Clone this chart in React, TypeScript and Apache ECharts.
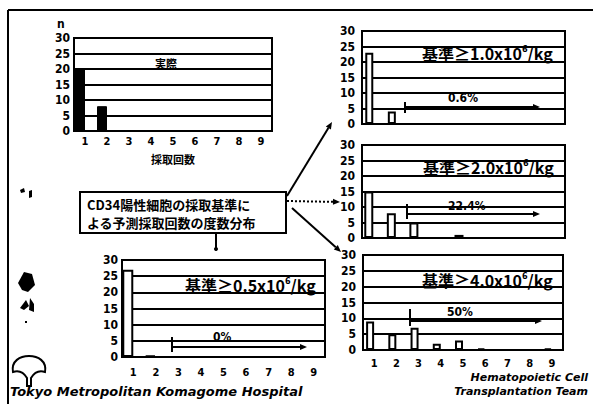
import React, { useEffect, useRef } from "react";
import * as echarts from "echarts";

const categories = ["1", "2", "3", "4", "5", "6", "7", "8", "9"];
const actualCounts = [20, 8, 0, 0, 0, 0, 0, 0, 0];
const criterion05 = [27, 0.5, 0, 0, 0, 0, 0, 0, 0];
const criterion10 = [23, 4, 0, 0, 0, 0, 0, 0, 0];
const criterion20 = [15, 8, 5, 0, 1, 0, 0, 0, 0];
const criterion40 = [9, 5, 7, 2, 3, 0.5, 0, 0, 0.5];
const yMin = 0;
const yMax = 30;
const yStep = 5;
const criterionLabels = ["1.0", "2.0", "4.0", "0.5"];
const percentLabels = ["0.6%", "22.4%", "50%", "0%"];
const boxLines = ["CD34陽性細胞の採取基準に", "よる予測採取回数の度数分布"];
const actualLabel = "実際";
const xAxisTitle = "採取回数";
const yAxisTitle = "n";
const footerLeft = "Tokyo Metropolitan Komagome Hospital";
const footerRight = ["Hematopoietic Cell", "Transplantation Team"];

const NUM_FONT = "'DejaVu Sans Condensed', 'Liberation Sans Narrow', sans-serif";
const CJK_FONT = "'Noto Sans CJK JP', 'Noto Sans', sans-serif";

const ginkgoPath =
  "M13 372 C11 361 20 356 29 356 C38 356 47 361 45 372 C39 370 34 373 31 378 L31 386 L27 386 L27 378 C24 373 19 370 13 372 Z";

function arrow(x1: number, y1: number, x2: number, y2: number, dashed = false) {
  const ang = Math.atan2(y2 - y1, x2 - x1);
  const L = 7;
  const W = 3;
  const c = Math.cos(ang);
  const s = Math.sin(ang);
  const bx = x2 - L * c;
  const by = y2 - L * s;
  return [
    {
      type: "line",
      shape: { x1, y1, x2: bx, y2: by },
      style: { stroke: "#000", lineWidth: 2, lineDash: dashed ? [2, 2] : null },
    },
    {
      type: "polygon",
      shape: {
        points: [
          [x2, y2],
          [bx + W * s, by - W * c],
          [bx - W * s, by + W * c],
        ],
      },
      style: { fill: "#000" },
    },
  ];
}

function txt(text: string, x: number, y: number, size: number, opts: any = {}) {
  return {
    type: "text",
    x,
    y,
    style: {
      text,
      fontSize: size,
      fontWeight: "bold",
      fontFamily: opts.family || CJK_FONT,
      fontStyle: opts.italic ? "italic" : "normal",
      fill: "#000",
      textAlign: opts.align || "left",
      align: opts.align || "left",
      textVerticalAlign: "middle",
      verticalAlign: "middle",
    },
  };
}

function critText(val: string, x: number, y: number) {
  return {
    type: "text",
    x,
    y,
    style: {
      text: `{a|基準≥${val}x10}{s|6}{a|/kg}`,
      textVerticalAlign: "middle",
      verticalAlign: "middle",
      rich: {
        a: {
          fontSize: 16,
          fontWeight: "bold",
          fontFamily: CJK_FONT,
          fill: "#000",
          color: "#000",
          lineHeight: 18,
        },
        s: {
          fontSize: 9,
          fontWeight: "bold",
          fontFamily: NUM_FONT,
          fill: "#000",
          color: "#000",
          verticalAlign: "top",
          lineHeight: 10,
        },
      },
    },
  };
}

function pctArrow(xt: number, yt1: number, yt2: number, yh: number, xEnd: number) {
  return [
    {
      type: "line",
      shape: { x1: xt, y1: yt1, x2: xt, y2: yt2 },
      style: { stroke: "#000", lineWidth: 2 },
    },
    ...arrow(xt, yh, xEnd, yh),
  ];
}

function speck(points: number[][]) {
  return { type: "polygon", shape: { points }, style: { fill: "#000" } };
}

export default function App() {
  const ref = useRef<HTMLDivElement>(null);
  useEffect(() => {
    if (!ref.current) return;
    try {
      echarts.graphic.registerShape(
        "ginkgo",
        echarts.graphic.extendPath(ginkgoPath, {}) as any
      );
    } catch (e) {}
    const chart = echarts.init(ref.current, null as any, { renderer: "svg" });

    const grids = [
      { left: 74, top: 38, width: 198, height: 93 },
      { left: 362, top: 31, width: 203, height: 93 },
      { left: 362, top: 145, width: 203, height: 93 },
      { left: 363, top: 255, width: 200, height: 95 },
      { left: 122, top: 260, width: 203, height: 97 },
    ];
    const seriesData = [actualCounts, criterion10, criterion20, criterion40, criterion05];
    const showX = [true, false, false, true, true];
    const xMargins = [5, 6, 6, 8, 10];
    const yMargins = [4, 7, 7, 7, 4];
    const barWidths = [10, 8, 9, 8, 11];

    const option: any = {
      animation: false,
      backgroundColor: "#fff",
      grid: grids.map((g) => ({
        ...g,
        show: true,
        borderColor: "#000",
        borderWidth: 2,
        backgroundColor: "transparent",
        containLabel: false,
      })),
      xAxis: grids.map((g, i) => ({
        type: "category",
        gridIndex: i,
        data: categories,
        axisLine: { show: true, lineStyle: { color: "#000", width: 2 } },
        axisTick: { show: false },
        axisLabel: {
          show: showX[i],
          color: "#000",
          fontSize: 11,
          fontWeight: "bold",
          fontFamily: NUM_FONT,
          margin: xMargins[i],
        },
        splitLine: { show: false },
        name: i === 0 ? xAxisTitle : "",
        nameLocation: "middle",
        nameGap: 22,
        nameTextStyle: {
          color: "#000",
          fontSize: 11,
          fontWeight: "bold",
          fontFamily: CJK_FONT,
        },
      })),
      yAxis: grids.map((g, i) => ({
        type: "value",
        gridIndex: i,
        min: yMin,
        max: yMax,
        interval: yStep,
        axisLine: { show: true, lineStyle: { color: "#000", width: 2 } },
        axisTick: { show: false },
        axisLabel: {
          color: "#000",
          fontSize: 12,
          fontWeight: "bold",
          fontFamily: NUM_FONT,
          margin: yMargins[i],
        },
        splitLine: { show: true, lineStyle: { color: "#000", width: 2 } },
      })),
      series: [
        ...seriesData.map((d, i) => ({
          type: "bar",
          xAxisIndex: i,
          yAxisIndex: i,
          data: d,
          barWidth: barWidths[i],
          barGap: "0%",
          itemStyle:
            i === 0
              ? { color: "#000", borderColor: "#000", borderWidth: 1 }
              : { color: "#fff", borderColor: "#000", borderWidth: 2 },
          silent: true,
        })),
        ...seriesData.map((d, i) => ({
          type: "bar",
          xAxisIndex: i,
          yAxisIndex: i,
          data: d.map(() => "-"),
          barWidth: barWidths[i],
          barGap: "0%",
          itemStyle: { color: "transparent" },
          silent: true,
        })),
      ],
      graphic: {
        elements: [
          // frame
          { type: "line", shape: { x1: 8, y1: 10, x2: 593, y2: 10 }, style: { stroke: "#000", lineWidth: 2 } },
          { type: "line", shape: { x1: 8, y1: 10, x2: 8, y2: 404 }, style: { stroke: "#000", lineWidth: 2 } },
          // left-edge specks from the scan
          speck([[20, 190], [24, 188], [25, 192], [21, 193]]),
          speck([[29, 191], [32, 190], [32, 197], [29, 198]]),
          speck([[18, 283], [24, 272], [32, 274], [35, 285], [28, 292], [22, 290]]),
          speck([[20, 308], [26, 300], [29, 306], [24, 310]]),
          speck([[30, 298], [34, 304], [34, 312], [29, 310]]),
          speck([[25, 321], [27, 321], [27, 323], [25, 323]]),
          // top-left
          txt(yAxisTitle, 57, 24, 12, { family: NUM_FONT }),
          txt(actualLabel, 155, 63, 11),
          // top-right
          critText(criterionLabels[0], 422, 53),
          txt(percentLabels[0], 448, 98, 12, { family: NUM_FONT }),
          ...pctArrow(405, 102, 113, 107, 540),
          // middle-right
          critText(criterionLabels[1], 423, 167),
          txt(percentLabels[1], 448, 206, 12, { family: NUM_FONT }),
          ...pctArrow(407, 204, 219, 214, 540),
          // bottom-right
          critText(criterionLabels[2], 422, 280),
          txt(percentLabels[2], 447, 312, 12, { family: NUM_FONT }),
          ...pctArrow(410, 309, 326, 321, 542),
          // bottom-left
          critText(criterionLabels[3], 185, 285),
          txt(percentLabels[3], 213, 337, 12, { family: NUM_FONT }),
          ...pctArrow(172, 337, 352, 347, 307),
          // box
          {
            type: "rect",
            shape: { x: 80, y: 192, width: 206, height: 41 },
            style: { fill: "#fff", stroke: "#000", lineWidth: 2 },
          },
          txt(boxLines[0], 87, 204, 13),
          txt(boxLines[1], 87, 222, 13),
          ...arrow(287, 196, 332, 122),
          ...arrow(287, 201, 340, 202, true),
          ...arrow(292, 208, 341, 252),
          { type: "line", shape: { x1: 216, y1: 233, x2: 216, y2: 248 }, style: { stroke: "#000", lineWidth: 2 } },
          { type: "circle", shape: { cx: 216, cy: 249, r: 2 }, style: { fill: "#000" } },
          // footer
          { type: "ginkgo", x: 0, y: 0, style: { fill: "none", stroke: "#000", lineWidth: 2 } },
          txt(footerLeft, 10, 391, 13, { family: "'DejaVu Sans', sans-serif", italic: true }),
          txt(footerRight[0], 588, 377, 11, { family: "'DejaVu Sans', sans-serif", italic: true, align: "right" }),
          txt(footerRight[1], 588, 391, 11, { family: "'DejaVu Sans', sans-serif", italic: true, align: "right" }),
        ],
      },
    };
    chart.setOption(option);
    return () => chart.dispose();
  }, []);
  return (
    <div
      ref={ref}
      style={{ position: "fixed", left: 0, top: 0, width: 593, height: 404, background: "#fff" }}
    />
  );
}
